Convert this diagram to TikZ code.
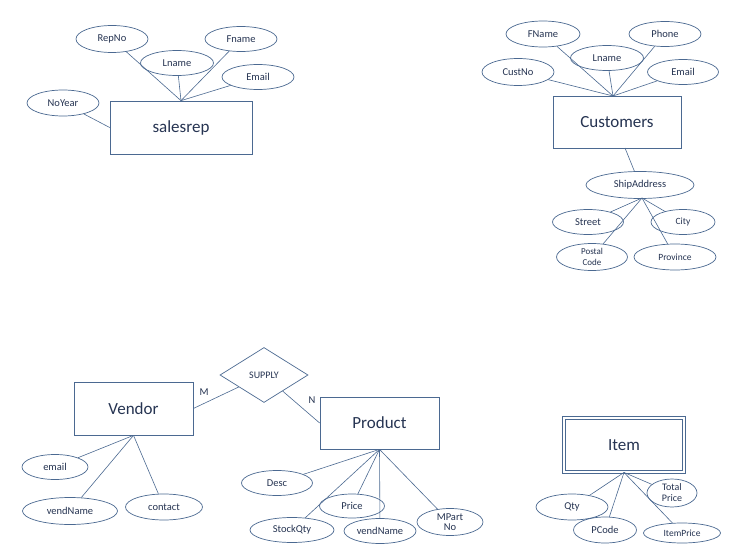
\documentclass[tikz,border=0pt]{standalone}
\usepackage{fontspec}
\setmainfont{Carlito}
\usetikzlibrary{shapes.geometric}
\definecolor{lc}{RGB}{75,105,145}
\definecolor{tc}{RGB}{38,52,82}
\begin{document}
\begin{tikzpicture}[x=1pt,y=-1pt,
  attr/.style={ellipse, draw=lc, line width=0.7pt, text=tc, inner sep=0pt, align=center, font=\fontsize{10.5}{10.5}\selectfont},
  entity/.style={draw=lc, line width=0.7pt, text=tc, inner sep=0pt, font=\fontsize{17}{17}\selectfont},
  conn/.style={draw=lc, line width=0.6pt},
  lbl/.style={text=tc, font=\fontsize{10.5}{10.5}\selectfont, inner sep=0pt}]
\useasboundingbox[fill=white] (0,0) rectangle (742,559);

% ---------- salesrep ----------
\node[entity, minimum width=142pt, minimum height=53pt] (salesrep) at (181,127.5) {salesrep};
\node[attr, minimum width=72pt, minimum height=27pt] (repno) at (112,39) {RepNo};
\node[attr, minimum width=73pt, minimum height=25pt] (lname1) at (177,63) {Lname};
\node[attr, minimum width=72pt, minimum height=25pt] (fname1) at (241,39) {Fname};
\node[attr, minimum width=72pt, minimum height=25pt] (email1) at (258,77) {Email};
\node[attr, minimum width=72pt, minimum height=26pt] (noyear) at (63,103) {NoYear};
\coordinate (srtop) at (salesrep.north);
\foreach \a in {repno,lname1,fname1,email1} \draw[conn] (srtop) -- (\a);
\draw[conn] (noyear) -- (salesrep.west);

% ---------- Customers ----------
\node[entity, minimum width=128pt, minimum height=52pt] (cust) at (617,122) {Customers};
\node[attr, minimum width=74pt, minimum height=26pt] (fname2) at (543,34) {FName};
\node[attr, minimum width=73pt, minimum height=25pt] (lname2) at (607,58) {Lname};
\node[attr, minimum width=72pt, minimum height=25pt] (phone) at (665,34) {Phone};
\node[attr, minimum width=72pt, minimum height=27pt] (custno) at (518,72) {CustNo};
\node[attr, minimum width=71pt, minimum height=25pt] (email2) at (683,72) {Email};
\coordinate (ctop) at (613,96);
\foreach \a in {fname2,lname2,phone,custno,email2} \draw[conn] (ctop) -- (\a);
\node[attr, minimum width=108pt, minimum height=27pt] (ship) at (640,185) {ShipAddress};
\coordinate (cbot) at (625,148);
\draw[conn] (cbot) -- (ship);
\node[attr, minimum width=71pt, minimum height=25pt] (street) at (588,222) {Street};
\node[attr, minimum width=64pt, minimum height=25pt, font=\fontsize{9.5}{9.5}\selectfont] (city) at (683,222) {City};
\node[attr, minimum width=71pt, minimum height=27pt, font=\fontsize{9}{10.5}\selectfont] (postal) at (592,257) {Postal\\Code};
\node[attr, minimum width=82pt, minimum height=26pt, font=\fontsize{9.5}{9.5}\selectfont] (prov) at (675,257) {Province};
\coordinate (sbot) at (642,198);
\foreach \a in {street,city,postal,prov} \draw[conn] (sbot) -- (\a);

% ---------- Vendor / SUPPLY / Product ----------
\node[entity, minimum width=119pt, minimum height=53pt] (vendor) at (133.5,408.5) {Vendor};
\node[diamond, draw=lc, line width=0.7pt, text=tc, inner sep=0pt, minimum width=88pt, minimum height=55pt, font=\fontsize{10}{10}\selectfont] (supply) at (264,375) {SUPPLY};
\node[entity, minimum width=119pt, minimum height=52pt] (product) at (379.5,423) {Product};
\draw[conn] (vendor.east) -- (supply);
\draw[conn] (product.west) -- (supply);
\node[lbl] (mlab) at (204,392) {M};
\node[lbl] (nlab) at (312,400) {N};

\node[attr, minimum width=66pt, minimum height=25pt] (vemail) at (55,467) {email};
\node[attr, minimum width=95pt, minimum height=27pt] (vname) at (70,511) {vendName};
\node[attr, minimum width=77pt, minimum height=26pt] (contact) at (164,507) {contact};
\coordinate (vbot) at (vendor.south);
\foreach \a in {vemail,vname,contact} \draw[conn] (vbot) -- (\a);

\node[attr, minimum width=71pt, minimum height=25pt] (desc) at (277,483) {Desc};
\node[attr, minimum width=65pt, minimum height=24pt] (price) at (352,506) {Price};
\node[attr, minimum width=84pt, minimum height=25pt] (stock) at (292,530) {StockQty};
\node[attr, minimum width=72pt, minimum height=25pt] (pvname) at (380,531) {vendName};
\node[attr, minimum width=66pt, minimum height=27pt] (mpart) at (450,522) {MPart\\No};
\coordinate (pbot) at (product.south);
\foreach \a in {desc,price,stock,pvname,mpart} \draw[conn] (pbot) -- (\a);

% ---------- Item ----------
\node[entity, double, double distance=2pt, line width=0.9pt, minimum width=120pt, minimum height=54pt] (item) at (624,445) {Item};
\node[attr, minimum width=72pt, minimum height=26pt] (qty) at (572,507) {Qty};
\node[attr, minimum width=63pt, minimum height=26pt] (pcode) at (605,530) {PCode};
\node[attr, minimum width=77pt, minimum height=20pt, font=\fontsize{9.5}{9.5}\selectfont] (iprice) at (682,533) {ItemPrice};
\node[attr, minimum width=50pt, minimum height=28pt, font=\fontsize{10}{11}\selectfont] (tprice) at (672,493) {Total\\Price};
\coordinate (ibot) at (item.south);
\foreach \a in {qty,pcode,iprice,tprice} \draw[conn] (ibot) -- (\a);
\end{tikzpicture}
\end{document}
